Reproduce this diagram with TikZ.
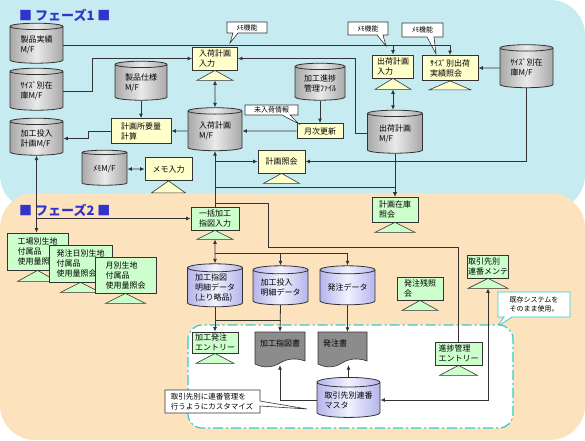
\documentclass[tikz,border=0pt]{standalone}
\usepackage{fontspec}
\newfontfamily\jp{Noto Sans CJK JP}
\usetikzlibrary{shapes.geometric,arrows.meta}
\definecolor{cyanbg}{HTML}{C6ECF2}
\definecolor{orangebg}{HTML}{FCE3BE}
\definecolor{yboxc}{HTML}{FFFFCC}
\definecolor{gboxc}{HTML}{CCFFCC}
\definecolor{linec}{HTML}{333333}
\definecolor{phasec}{HTML}{3333CC}
\definecolor{dashc}{HTML}{33CCCC}
\definecolor{docc}{HTML}{8C8C8C}
\definecolor{lavl}{HTML}{B4B4EC}
\definecolor{lavm}{HTML}{F2F2FF}
\definecolor{grayl}{HTML}{EAEAEA}
\definecolor{grayd}{HTML}{A8A8A8}
\tikzset{
 txt/.style={font=\jp\fontsize{8}{10}\selectfont, align=left, inner sep=0pt, text=black},
 ybox/.style={txt, draw=linec, fill=yboxc, line width=0.8pt},
 gbox/.style={txt, draw=linec, fill=gboxc, line width=0.8pt},
 cylg/.style={txt, cylinder, shape border rotate=90, aspect=0.2, draw=linec, line width=0.8pt, left color=grayd, right color=grayd, middle color=grayl},
 cyll/.style={txt, cylinder, shape border rotate=90, aspect=0.2, draw=linec, line width=0.8pt, left color=lavl, right color=lavl, middle color=lavm},
 arr/.style={draw=linec, line width=0.8pt, -{Latex[length=4.5pt,width=4pt]}},
 darr/.style={draw=linec, line width=0.8pt, {Latex[length=4.5pt,width=4pt]}-{Latex[length=4.5pt,width=4pt]}},
 plain/.style={draw=linec, line width=0.8pt},
 callout/.style={draw=linec, fill=white, line width=0.6pt},
 ctext/.style={font=\jp\fontsize{7}{9}\selectfont, align=left, inner sep=0pt},
 tri/.style={draw=linec, line width=0.6pt},
 phase/.style={font=\jp\bfseries\fontsize{13}{15}\selectfont, text=phasec, inner sep=0pt, anchor=west},
 docshape/.style={draw=linec, fill=docc, line width=0.6pt},
 area/.style={inner sep=0pt},
}
\newcommand\tri[4]{%
 \draw[tri, fill=#2] (#1.south) -- ([xshift=#3pt, yshift=-#4pt]#1.south) -- ([xshift=-#3pt, yshift=-#4pt]#1.south) -- cycle;
 \coordinate (#1-t) at ([yshift=-#4pt]#1.south);}
\begin{document}
\begin{tikzpicture}[x=1pt,y=-1pt]
\useasboundingbox (0,0) rectangle (585,440);
% backgrounds
\fill[cyanbg, rounded corners=35] (0,0) rectangle (585,210);
\fill[cyanbg] (0,0) rectangle (40,40);
\fill[orangebg, rounded corners=35] (0,193) rectangle (585,440);
\node[phase] (ph1) at (19,15) {■ フェーズ1 ■};
\node[phase] (ph2) at (19,210) {■ フェーズ2 ■};

% ---------- phase 1 ----------
\node[cylg, minimum width=53pt, minimum height=40pt] (seihin) at (36.5,45) {製品実績\\M/F};
\node[cylg, minimum width=53pt, minimum height=42pt] (sizeL) at (36.5,91) {ｻｲｽﾞ別在\\庫M/F};
\node[cylg, minimum width=53pt, minimum height=37pt] (kakoL) at (36.5,138.5) {加工投入\\計画M/F};
\node[cylg, minimum width=52pt, minimum height=39pt] (shiyo) at (141,82.5) {製品仕様\\M/F};
\node[ybox, minimum width=60pt, minimum height=25pt] (keisan) at (141,131) {計画所要量\\計算};
\node[cylg, minimum width=45pt, minimum height=35pt] (memoDB) at (104.5,169) {ﾒﾓM/F};
\node[ybox, minimum width=47pt, minimum height=23pt] (memoIn) at (168.5,169) {メモ入力};
\tri{memoIn}{yboxc}{17}{12}
\node[ybox, minimum width=45pt, minimum height=23pt] (nyuIn) at (215,58.5) {入荷計画\\入力};
\tri{nyuIn}{yboxc}{18}{10}
\node[cylg, minimum width=54pt, minimum height=43pt] (nyuDB) at (215,131) {入荷計画\\M/F};
\node[cylg, minimum width=50pt, minimum height=37pt] (shinDB) at (320,83.5) {加工進捗\\管理ﾌｧｲﾙ};
\node[ybox, minimum width=46pt, minimum height=15pt] (getsuji) at (320,131) {月次更新};
\node[ybox, minimum width=47pt, minimum height=23pt] (keikaku) at (281.5,161.5) {計画照会};
\tri{keikaku}{yboxc}{18}{10}
\node[ybox, minimum width=41pt, minimum height=23pt] (shukIn) at (393,66.5) {出荷計画\\入力};
\tri{shukIn}{yboxc}{18}{11}
\node[ybox, minimum width=56pt, minimum height=25pt] (sizeSh) at (450,68) {ｻｲｽﾞ別出荷\\実績照会};
\tri{sizeSh}{yboxc}{21}{9}
\node[cylg, minimum width=53pt, minimum height=43pt] (sizeR) at (526.5,68) {ｻｲｽﾞ別在\\庫M/F};
\node[cylg, minimum width=55pt, minimum height=43pt] (shukDB) at (395,133.5) {出荷計画\\M/F};
\node[gbox, minimum width=46pt, minimum height=25pt] (zaiko) at (395,209.5) {計画在庫\\照会};
\tri{zaiko}{gboxc}{20}{10}

% callouts phase 1
\draw[callout] (227,22) -- (267,22) -- (267,33) -- (238,33) -- (230,43) -- (233,33) -- (227,33) -- cycle;
\node[ctext] (memo1) at (247,27.5) {ﾒﾓ機能};
\draw[callout] (348,22) -- (388,22) -- (388,35) -- (383,35) -- (386,46) -- (377,35) -- (348,35) -- cycle;
\node[ctext] (memo2) at (368,28.5) {ﾒﾓ機能};
\draw[callout] (402,23) -- (443,23) -- (443,37) -- (434,37) -- (436,54) -- (427,37) -- (402,37) -- cycle;
\node[ctext] (memo3) at (422.5,30) {ﾒﾓ機能};
\draw[callout] (245,105) -- (298,105) -- (298,115) -- (290,115) -- (299,124) -- (282,115) -- (245,115) -- cycle;
\node[ctext] (minyu) at (271.5,110) {未入荷情報};

% ---------- phase 2 ----------
\node[gbox, minimum width=48pt, minimum height=23pt] (ikkatsu) at (215,218.5) {一括加工\\指図入力};
\tri{ikkatsu}{gboxc}{18}{9}
\node[gbox, minimum width=61pt, minimum height=37pt] (kojo) at (37.5,251.5) {工場別生地\\付属品\\使用量照会};
\tri{kojo}{gboxc}{20}{11}
\node[gbox, minimum width=63pt, minimum height=37pt] (hacchubi) at (80.5,263.5) {発注日別生地\\付属品\\使用量照会};
\tri{hacchubi}{gboxc}{20}{10}
\node[gbox, minimum width=61pt, minimum height=36pt] (tsuki) at (125.5,275) {月別生地\\付属品\\使用量照会};
\tri{tsuki}{gboxc}{20}{10}
\node[cyll, minimum width=55pt, minimum height=43pt] (shijiDB) at (215,287.5) {加工指図\\明細データ\\(上り略品)};
\node[cyll, minimum width=55pt, minimum height=39pt] (tonyuDB) at (280.5,287.5) {加工投入\\明細データ};
\node[cyll, minimum width=55pt, minimum height=39pt] (hacchuDB) at (347.5,287.5) {発注データ};
\node[gbox, minimum width=46pt, minimum height=23pt] (hzan) at (420,288.5) {発注残照\\会};
\tri{hzan}{gboxc}{18}{10}
\node[gbox, minimum width=41pt, minimum height=23pt] (mente) at (488,266.5) {取引先別\\連番メンテ};
\tri{mente}{gboxc}{20}{10}
\draw[draw=dashc, fill=white, line width=0.8pt] (498,292) -- (570,292) -- (570,317) -- (512,317) -- (497,327) -- (504,317) -- (498,317) -- cycle;
\node[ctext, align=center] (kizon) at (534,304.5) {既存システムを\\そのまま使用。};

\draw[draw=dashc, fill=white, line width=1.2pt, rounded corners=14, dash pattern=on 10pt off 3pt on 2pt off 3pt] (188,325) rectangle (513,428);
\node[gbox, minimum width=46pt, minimum height=21pt] (kakoH) at (215,342.5) {加工発注\\エントリー};
\tri{kakoH}{gboxc}{19}{10}
\path[docshape] (255,332) -- (305,332) -- (305,361) .. controls (297,358) and (288,358) .. (280,363) .. controls (272,368) and (263,368) .. (255,364) -- cycle;
\node[area, minimum width=50pt, minimum height=33pt] (shijisho) at (280,348.5) {};
\node[txt] (shijishoT) at (280,343) {加工指図書};
\path[docshape] (318,332) -- (367,332) -- (367,361) .. controls (359,358) and (350,358) .. (342,363) .. controls (334,368) and (326,368) .. (318,364) -- cycle;
\node[area, minimum width=49pt, minimum height=33pt] (hacchusho) at (342.5,348.5) {};
\node[txt] (hacchushoT) at (335,343) {発注書};
\node[cyll, minimum width=63pt, minimum height=40pt] (renban) at (348.5,400) {取引先別連番\\マスタ};
\node[gbox, minimum width=47pt, minimum height=23pt] (shinchoku) at (458.5,353.5) {進捗管理\\エントリー};
\tri{shinchoku}{gboxc}{19}{10}
\draw[callout] (165,390) -- (260,390) -- (260,401) -- (307,409) -- (260,406) -- (260,413) -- (165,413) -- cycle;
\node[ctext, font=\jp\fontsize{7.5}{10}\selectfont] (custom) at (212,401.5) {取引先別に連番管理を\\行うようにカスタマイズ};

% ---------- connectors ----------
\draw[arr] (seihin.east) -| (shukIn.north);
\draw[arr] (seihin.east) -| (sizeSh.north);
\draw[arr] (sizeL.east) -- ++(29,0) |- (nyuIn.west);
\draw[arr] (shiyo.south) -- (keisan.north);
\draw[arr] (keisan.west) -- ++(-22,0) |- (kakoL.east);
\draw[arr] (nyuDB.west) -- (keisan.east);
\draw[darr] (memoDB.east) -- (memoIn.west);
\draw[darr] (kakoL.south) -- (kakoL.south |- kojo.north);
\draw[arr] (kakoL.south |- ikkatsu.west) -- (ikkatsu.west);
\draw[darr] (nyuIn-t) -- (nyuDB.north);
\draw[arr] (shinDB.south) -- (getsuji.north);
\draw[arr] (getsuji.west) -- (nyuDB.east);
\draw[arr] (shukDB.west) -- ++(-12,0) |- (nyuIn.east);
\draw[darr] (shukIn-t) -- (shukIn-t |- shukDB.north);
\draw[arr] (shukDB.south) -- (zaiko.north);
\draw[arr] (sizeR.west) -- (sizeSh.east);
\draw[arr] (sizeR.south) |- (keikaku.east);
\draw[arr] (ikkatsu.north) -- (nyuDB.south);
\draw[arr] (ikkatsu.north |- keikaku.west) -- (keikaku.west);
\coordinate (j1) at (215,187);
\draw[arr] (j1) -| (zaiko.north);
\coordinate (j2) at (215,203);
\draw[plain] (j2) -- ++(53,0) -- ++(0,44) -| (shinchoku.north);
\draw[darr] (ikkatsu-t) -- (shijiDB.north);
\coordinate (j3) at (215,253);
\draw[arr] (j3) -| (tonyuDB.north);
\draw[arr] (j3) -| (hacchuDB.north);
\draw[arr] (shijiDB.south) -- (kakoH.north);
\coordinate (j4) at (215,320);
\draw[plain] (j4) -- (j4 -| tonyuDB.south);
\draw[arr] (tonyuDB.south) -- (shijisho.north);
\draw[arr] (hacchuDB.south) -- (hacchuDB.south |- hacchusho.north);
\draw[arr] (renban.north) -- (renban.north |- hacchusho.south);
\draw[arr] (renban.west) -| (shijisho.south);
\draw[darr] (renban.east) -| (mente-t);
\end{tikzpicture}
\end{document}
